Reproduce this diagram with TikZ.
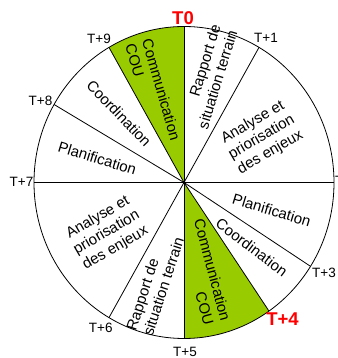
\documentclass[tikz,border=0pt]{standalone}
\usepackage{fontspec}
\setmainfont{Liberation Sans}
\definecolor{leaf}{HTML}{99CC00}
\begin{document}
\begin{tikzpicture}[x=1pt,y=1pt,
  line/.style={line width=0.8pt,draw=black},
  phase/.style={font=\fontsize{15}{17.5}\selectfont,inner sep=0pt},
  tlabel/.style={font=\fontsize{13.5}{16}\selectfont,inner sep=0pt},
  keylabel/.style={font=\fontsize{18.5}{20}\selectfont\bfseries,text=red,inner sep=0pt}]
\useasboundingbox (-184,-175.5) rectangle (153,182.5);

% hub and rim points of the wheel
\coordinate (c) at (0,0);
\foreach \a/\n in {90/p0,60/p1,0/p2,-32.5/p3,-55.5/p4,-90/p5,-120/p6,180/p7,150/p8,120/p9}
  \coordinate (\n) at (\a:150pt and 156pt);

% highlighted communication sectors
\fill[leaf] (c) -- (p0) arc[start angle=90,end angle=120,x radius=150pt,y radius=156pt] -- cycle;
\fill[leaf] (c) -- (p4) arc[start angle=-55.5,end angle=-90,x radius=150pt,y radius=156pt] -- cycle;

% spokes and rim
\foreach \n in {p0,p1,p2,p3,p4,p5,p6,p7,p8,p9}
  \draw[line] (c) -- (\n);
\draw[line] (c) ellipse[x radius=150pt,y radius=156pt];

% sector texts
\node[phase,rotate=-74,align=left]  (s1) at (-31,90.5)  {Communication\\COU};
\node[phase,rotate=73,align=right]  (s2) at (25,105.5)  {Rapport de\\situation terrain};
\node[phase,rotate=30,align=center] (s3) at (77.7,45)   {Analyse et\\priorisation\\des enjeux};
\node[phase,rotate=-17]             (s4) at (87.7,-27.5) {Planification};
\node[phase,rotate=-37]             (s5) at (67.7,-64.8) {Coordination};
\node[phase,rotate=-75,align=right] (s6) at (20,-89.5)  {Communication\\COU};
\node[phase,rotate=72,align=left]   (s7) at (-29,-101.2) {Rapport de\\situation terrain};
\node[phase,rotate=30,align=center] (s8) at (-77.3,-50.3) {Analyse et\\priorisation\\des enjeux};
\node[phase,rotate=-17]             (s9) at (-86.7,24.2) {Planification};
\node[phase,rotate=-46]             (s10) at (-65,69.2) {Coordination};

% time marks
\node[keylabel] (t0) at (-1,164.5) {T0};
\node[tlabel] (t1) at (82,145) {T+1};
\node[tlabel,anchor=west] (t2) at (151,1.5) {T+2};
\node[tlabel] (t3) at (140,-90) {T+3};
\node[keylabel] (t4) at (98.5,-136.5) {T+4};
\node[tlabel] (t5) at (1,-169.5) {T+5};
\node[tlabel] (t6) at (-83.3,-145) {T+6};
\node[tlabel] (t7) at (-162.5,0.5) {T+7};
\node[tlabel] (t8) at (-143.5,81.5) {T+8};
\node[tlabel] (t9) at (-85,143.5) {T+9};
\end{tikzpicture}
\end{document}
